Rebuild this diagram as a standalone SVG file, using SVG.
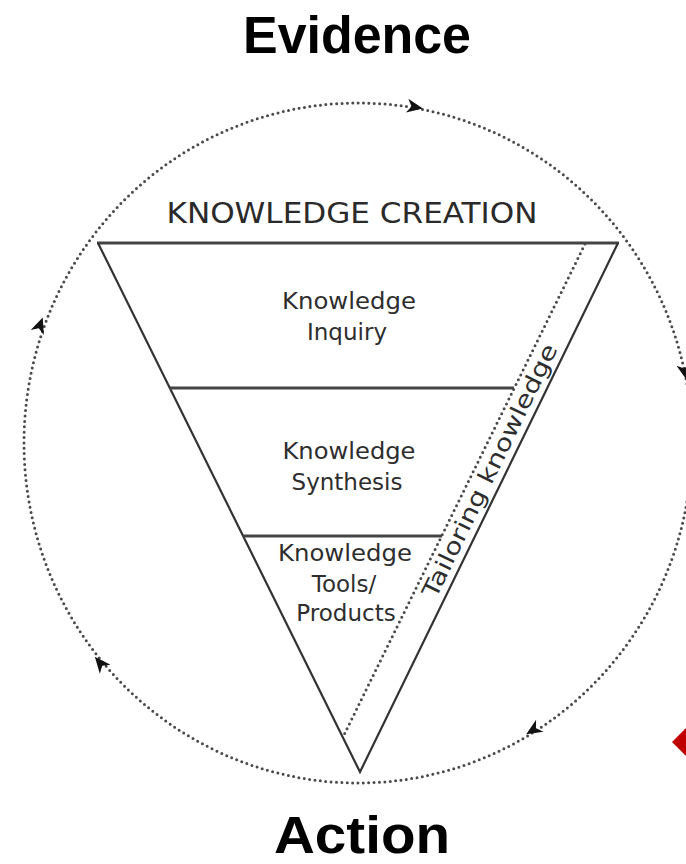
<svg xmlns="http://www.w3.org/2000/svg" width="686" height="864" viewBox="0 0 686 864">
  <style>
    .title { font-family: "Liberation Sans", Arial, sans-serif; font-weight: bold; font-size: 51px; fill: #000; text-anchor: middle; }
    .label { font-family: "DejaVu Sans", Verdana, sans-serif; font-size: 23px; fill: #2e2e2e; text-anchor: middle; }
    .heading { font-family: "DejaVu Sans", Verdana, sans-serif; font-size: 29px; fill: #2a2a2a; text-anchor: middle; }
    .edge { fill: none; stroke: #333; stroke-width: 2.2; stroke-linejoin: miter; }
    .band { fill: none; stroke: #444; stroke-width: 2.8; }
    .dots { fill: none; stroke: #4a4a4a; stroke-width: 3; stroke-linecap: round; stroke-dasharray: 0 5.4; }
    .head { fill: #111; }
  </style>
  <defs>
    <path id="arrowhead" class="head" d="M8,0 L-8,-7 L-3.5,0 L-8,7 Z"/>
  </defs>

  <!-- outer titles -->
  <g id="evidence">
    <text class="title" x="357" y="53" textLength="228" lengthAdjust="spacingAndGlyphs">Evidence</text>
  </g>
  <g id="action">
    <text class="title" x="362" y="853" textLength="176" lengthAdjust="spacingAndGlyphs">Action</text>
  </g>

  <!-- clockwise cycle around the funnel -->
  <g id="connectors">
    <ellipse class="dots" cx="358" cy="443" rx="334" ry="340"/>
    <use href="#arrowhead" transform="translate(415,107) rotate(10)"/>
    <use href="#arrowhead" transform="translate(685,372) rotate(78)"/>
    <use href="#arrowhead" transform="translate(533,730) rotate(148)"/>
    <use href="#arrowhead" transform="translate(100,663) rotate(230)"/>
    <use href="#arrowhead" transform="translate(40,325) rotate(-70)"/>
  </g>

  <!-- knowledge creation funnel -->
  <g id="knowledge-creation">
    <text class="heading" x="352" y="223" textLength="371" lengthAdjust="spacingAndGlyphs">KNOWLEDGE CREATION</text>
    <line class="band" x1="97" y1="243" x2="619" y2="243"/>
    <path class="edge" d="M98,243 L360,772 L618,243"/>
  </g>

  <g id="knowledge-inquiry">
    <text class="label" x="349" y="309" textLength="134" lengthAdjust="spacingAndGlyphs">Knowledge</text>
    <text class="label" x="347" y="340">Inquiry</text>
  </g>
  <line class="band" x1="170" y1="388" x2="514" y2="388"/>

  <g id="knowledge-synthesis">
    <text class="label" x="349" y="459" textLength="133" lengthAdjust="spacingAndGlyphs">Knowledge</text>
    <text class="label" x="347" y="490">Synthesis</text>
  </g>
  <line class="band" x1="243" y1="536" x2="442" y2="536"/>

  <g id="knowledge-tools">
    <text class="label" x="345" y="561" textLength="134" lengthAdjust="spacingAndGlyphs">Knowledge</text>
    <text class="label" x="344" y="592">Tools/</text>
    <text class="label" x="346" y="621">Products</text>
  </g>

  <!-- tailoring band along the right edge -->
  <g id="tailoring-knowledge">
    <line class="dots" x1="585" y1="244" x2="343" y2="737"/>
    <text class="label" font-size="22" transform="translate(497,474) rotate(-64)" x="0" y="0" textLength="279" lengthAdjust="spacingAndGlyphs">Tailoring knowledge</text>
  </g>

  <!-- marker at the lower right -->
  <polygon points="672,742 687,727 702,742 687,757" fill="#c00000"/>
</svg>
